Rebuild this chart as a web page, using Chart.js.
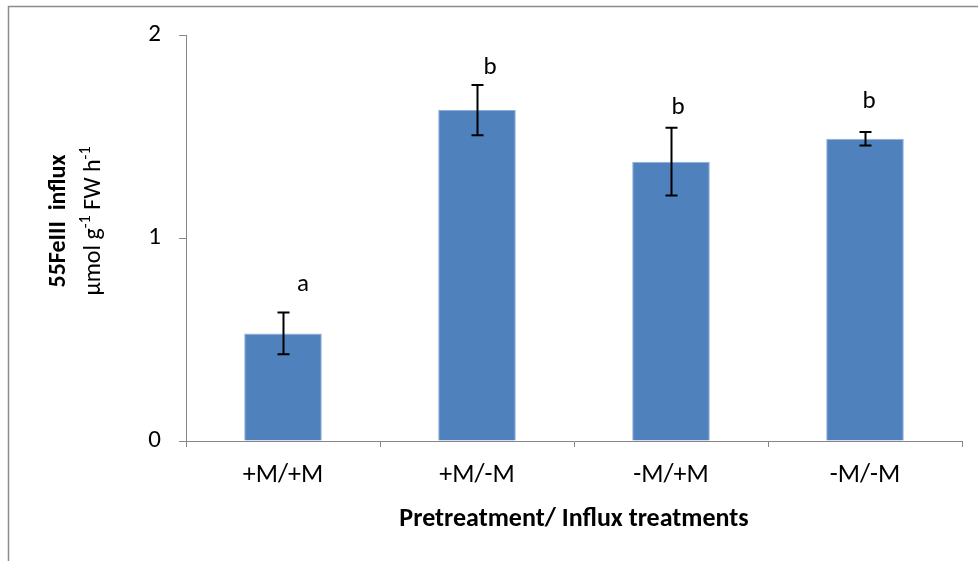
<!DOCTYPE html>
<html>
<head>
<meta charset="utf-8">
<script src="https://cdn.jsdelivr.net/npm/chart.js@4/dist/chart.umd.min.js"></script>
<style>
  html, body { margin: 0; padding: 0; background: #fff; }
  #wrap { width: 978px; height: 561px; }
</style>
</head>
<body>
<div id="wrap"><canvas id="chart" width="978" height="561"></canvas></div>
<script>
// data
const categories = ['+M/+M', '+M/-M', '-M/+M', '-M/-M'];
const influx = [0.53, 1.63, 1.376, 1.489];
const errors = [0.103, 0.124, 0.167, 0.033];
const letters = ['a', 'b', 'b', 'b'];
const letterY = [0.77, 1.84, 1.64, 1.67];
const yTicks = [0, 1, 2];

const FONT = 'Carlito, Calibri, Lato, sans-serif';
const AXIS_GREY = '#868686';

// outer frame (only top and left edges show in the picture)
const framePlugin = {
    id: 'frame',
    beforeDraw(chart) {
        const ctx = chart.ctx;
        ctx.save();
        ctx.strokeStyle = '#8c8c8c';
        ctx.lineWidth = 1.5;
        ctx.beginPath();
        ctx.moveTo(8.5, 561);
        ctx.lineTo(8.5, 6.5);
        ctx.lineTo(978, 6.5);
        ctx.stroke();
        ctx.restore();
    }
};

// error bars + significance letters
const errorPlugin = {
    id: 'errorBars',
    afterDatasetsDraw(chart, args, opts) {
        const ctx = chart.ctx;
        const y = chart.scales.y;
        const meta = chart.getDatasetMeta(0);
        ctx.save();
        ctx.strokeStyle = '#000';
        ctx.lineWidth = 2;
        meta.data.forEach((bar, i) => {
            const x = Math.round(bar.x) + 0.5;
            const top = y.getPixelForValue(influx[i] + errors[i]);
            const bot = y.getPixelForValue(influx[i] - errors[i]);
            ctx.beginPath();
            ctx.moveTo(x, top); ctx.lineTo(x, bot);
            ctx.moveTo(x - 6, top); ctx.lineTo(x + 6, top);
            ctx.moveTo(x - 6, bot); ctx.lineTo(x + 6, bot);
            ctx.stroke();

            ctx.fillStyle = '#000';
            ctx.font = '25px ' + FONT;
            ctx.textAlign = 'center';
            ctx.textBaseline = 'middle';
            ctx.fillText(letters[i], bar.x + opts.letterDx[i], y.getPixelForValue(letterY[i]));
        });
        ctx.restore();
    }
};

// two-line rotated y title with superscripts
const yTitlePlugin = {
    id: 'yTitle',
    afterDraw(chart) {
        const ctx = chart.ctx;
        const cy = 221;
        ctx.save();
        ctx.fillStyle = '#000';
        ctx.textBaseline = 'middle';

        ctx.save();
        ctx.translate(59, cy);
        ctx.rotate(-Math.PI / 2);
        ctx.font = 'bold 24px ' + FONT;
        ctx.textAlign = 'center';
        ctx.fillText('55FeIII  influx', 0, 0);
        ctx.restore();

        const parts = [
            ['µmol g', false], ['-1', true], [' FW h', false], ['-1', true]
        ];
        const norm = '24px ' + FONT, sup = '16px ' + FONT;
        let w = 0;
        parts.forEach(p => { ctx.font = p[1] ? sup : norm; w += ctx.measureText(p[0]).width; });
        ctx.save();
        ctx.translate(94, cy);
        ctx.rotate(-Math.PI / 2);
        ctx.textAlign = 'left';
        let x = -w / 2;
        parts.forEach(p => {
            ctx.font = p[1] ? sup : norm;
            ctx.fillText(p[0], x, p[1] ? -8 : 0);
            x += ctx.measureText(p[0]).width;
        });
        ctx.restore();
        ctx.restore();
    }
};

new Chart(document.getElementById('chart'), {
    type: 'bar',
    data: {
        labels: categories,
        datasets: [{
            data: influx,
            backgroundColor: '#4F81BD',
            borderColor: '#8FB0DB',
            borderWidth: 1,
            barPercentage: 0.4,
            categoryPercentage: 1
        }]
    },
    options: {
        responsive: false,
        animation: false,
        devicePixelRatio: 1,
        layout: { padding: { left: 0, top: 35, right: 16, bottom: 0 } },
        plugins: {
            legend: { display: false },
            tooltip: { enabled: false },
            errorBars: { letterDx: [20, 13, 7, 4] }
        },
        scales: {
            x: {
                offset: true,
                grid: { offset: true, drawOnChartArea: false, tickLength: 6, color: AXIS_GREY },
                border: { color: AXIS_GREY, width: 1 },
                ticks: { color: '#000', font: { family: FONT, size: 26 }, padding: 13 },
                title: {
                    display: true,
                    text: 'Pretreatment/ Influx treatments',
                    color: '#000',
                    font: { family: FONT, size: 26, weight: 'bold' },
                    padding: { top: 0, bottom: 26 }
                },
                afterFit(scale) { scale.height = 120; }
            },
            y: {
                min: 0,
                max: 2,
                afterBuildTicks(scale) { scale.ticks = yTicks.map(v => ({ value: v })); },
                grid: { drawOnChartArea: false, tickLength: 7, color: AXIS_GREY },
                border: { color: AXIS_GREY, width: 1 },
                ticks: { color: '#000', font: { family: FONT, size: 25 }, padding: 18 },
                afterFit(scale) { scale.width = 186; }
            }
        }
    },
    plugins: [framePlugin, errorPlugin, yTitlePlugin]
});
</script>
</body>
</html>
